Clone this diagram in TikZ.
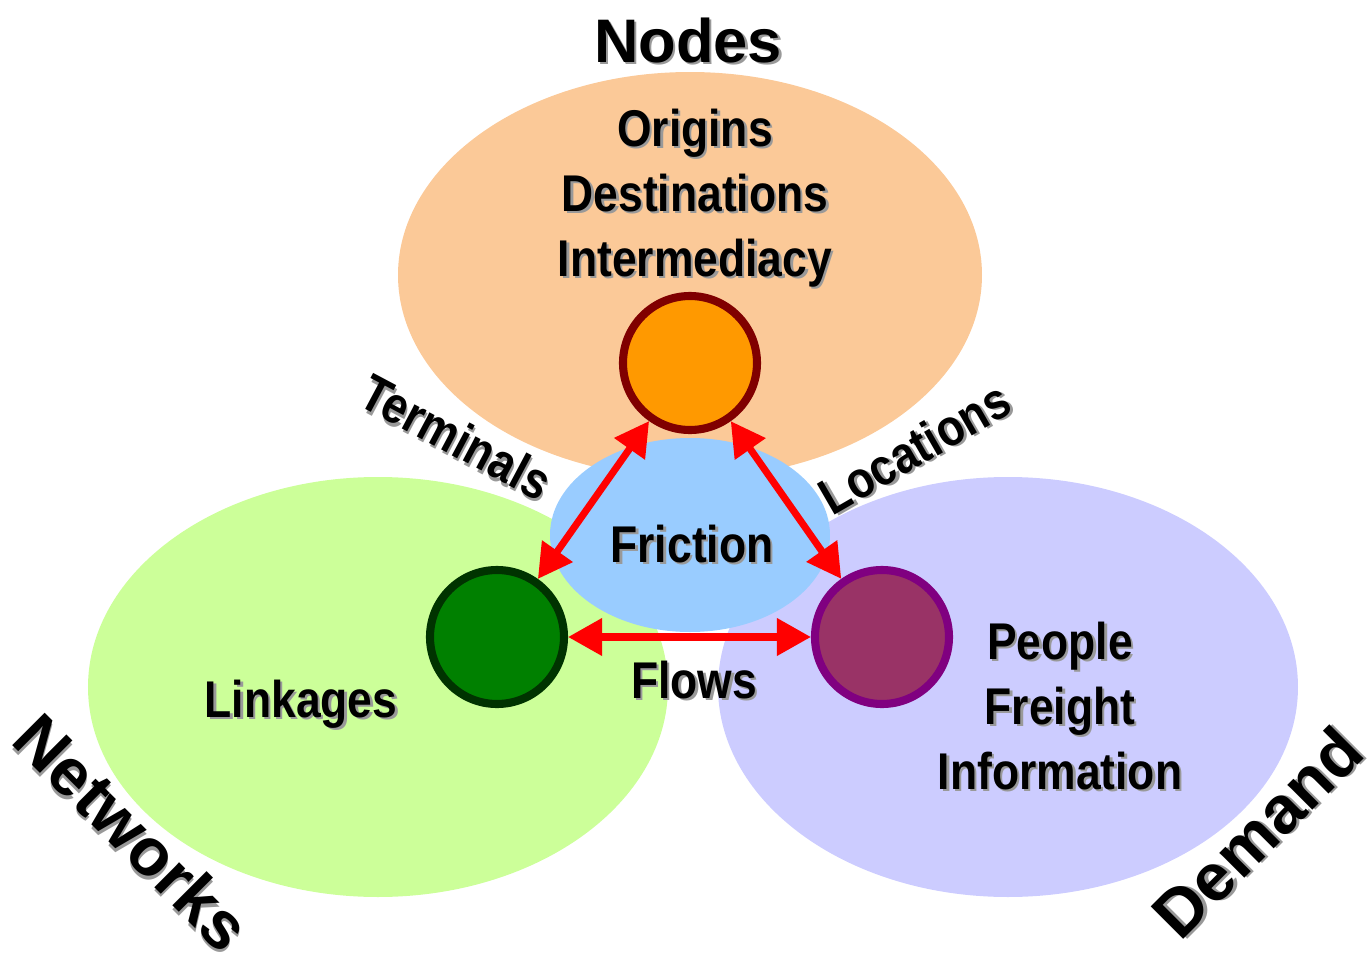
\documentclass[tikz,border=0pt]{standalone}
\usepackage{fontspec}
\setmainfont{Liberation Sans}[FakeStretch=0.86]
\newfontfamily\headfont{Liberation Sans}
\usepackage{tikz}
\usetikzlibrary{positioning,shapes.geometric,arrows.meta}
\definecolor{peach}{RGB}{251,201,152}
\definecolor{lightlime}{RGB}{204,255,153}
\definecolor{lavender}{RGB}{204,204,255}
\definecolor{skyblue}{RGB}{153,204,255}
\definecolor{hubOrange}{RGB}{255,153,0}
\definecolor{hubOrangeRim}{RGB}{128,0,0}
\definecolor{hubGreen}{RGB}{0,128,0}
\definecolor{hubGreenRim}{RGB}{0,51,0}
\definecolor{hubPlum}{RGB}{153,51,102}
\definecolor{hubPlumRim}{RGB}{128,0,128}
\newcommand*{\shtxt}[1]{\leavevmode\rlap{\kern0.7pt\raisebox{-0.7pt}{\textcolor{black!40}{#1}}}#1}

\begin{document}
\begin{tikzpicture}[node distance=3cm,on grid,
    oval/.style={ellipse,inner sep=0pt},
    hub/.style={circle,minimum size=1.34cm,line width=2.3pt,inner sep=0pt},
    lbl/.style={font=\bfseries\fontsize{14.7}{18.5}\selectfont,inner sep=0pt,align=center},
    head/.style={font=\headfont\bfseries\fontsize{19}{23}\selectfont,inner sep=0pt},
    link/.style={{Triangle[length=0.34cm,width=0.36cm]}-{Triangle[length=0.34cm,width=0.36cm]},red,line width=2pt}]
    \useasboundingbox (0,0) rectangle (13.67,-9.55);
    % the three big areas
    \node[oval,fill=peach,minimum width=5.84cm,minimum height=4.06cm] (nodesArea) at (6.90,-2.75) {};
    \node[oval,fill=lightlime,minimum width=5.80cm,minimum height=4.20cm] (netArea) at (3.78,-6.87) {};
    \node[oval,fill=lavender,minimum width=5.80cm,minimum height=4.20cm] (demArea) at (10.08,-6.87) {};
    \node[oval,fill=skyblue,minimum width=2.80cm,minimum height=1.94cm] (fricArea) at (6.90,-5.35) {};
    % hubs
    \node[hub,fill=hubOrange,draw=hubOrangeRim] (nodeHub) at (6.90,-3.63) {};
    \node[hub,fill=hubGreen,draw=hubGreenRim] (netHub) [below left = 2.74cm and 1.93cm of nodeHub] {};
    \node[hub,fill=hubPlum,draw=hubPlumRim] (demHub) [right = 3.85cm of netHub] {};
    \path[link]
    (nodeHub) edge (netHub)
              edge (demHub)
    (netHub) edge (demHub);
    % labels
    \node[head,font=\headfont\bfseries\fontsize{17.5}{21}\selectfont,anchor=base] (nodesTitle) at (6.88,-0.62) {\shtxt{Nodes}};
    \node[lbl] (nodesList) at (6.95,-1.99) {\shtxt{Origins}\\\shtxt{Destinations}\\\shtxt{Intermediacy}};
    \node[lbl,anchor=base] (fricLabel) at (6.92,-5.62) {\shtxt{Friction}};
    \node[lbl,anchor=base] (flowLabel) at (6.94,-6.98) {\shtxt{Flows}};
    \node[lbl,anchor=base] (linkLabel) at (3.01,-7.17) {\shtxt{Linkages}};
    \node[lbl] (demList) at (10.60,-7.07) {\shtxt{People}\\\shtxt{Freight}\\\shtxt{Information}};
    \node[lbl,rotate=-28] (termLabel) at (4.56,-4.38) {\shtxt{Terminals}};
    \node[lbl,rotate=30] (locLabel) at (9.15,-4.49) {\shtxt{Locations}};
    \node[head,rotate=-45] (netTitle) at (1.32,-8.33) {\shtxt{Networks}};
    \node[head,rotate=45] (demTitle) at (12.58,-8.33) {\shtxt{Demand}};
\end{tikzpicture}
\end{document}
